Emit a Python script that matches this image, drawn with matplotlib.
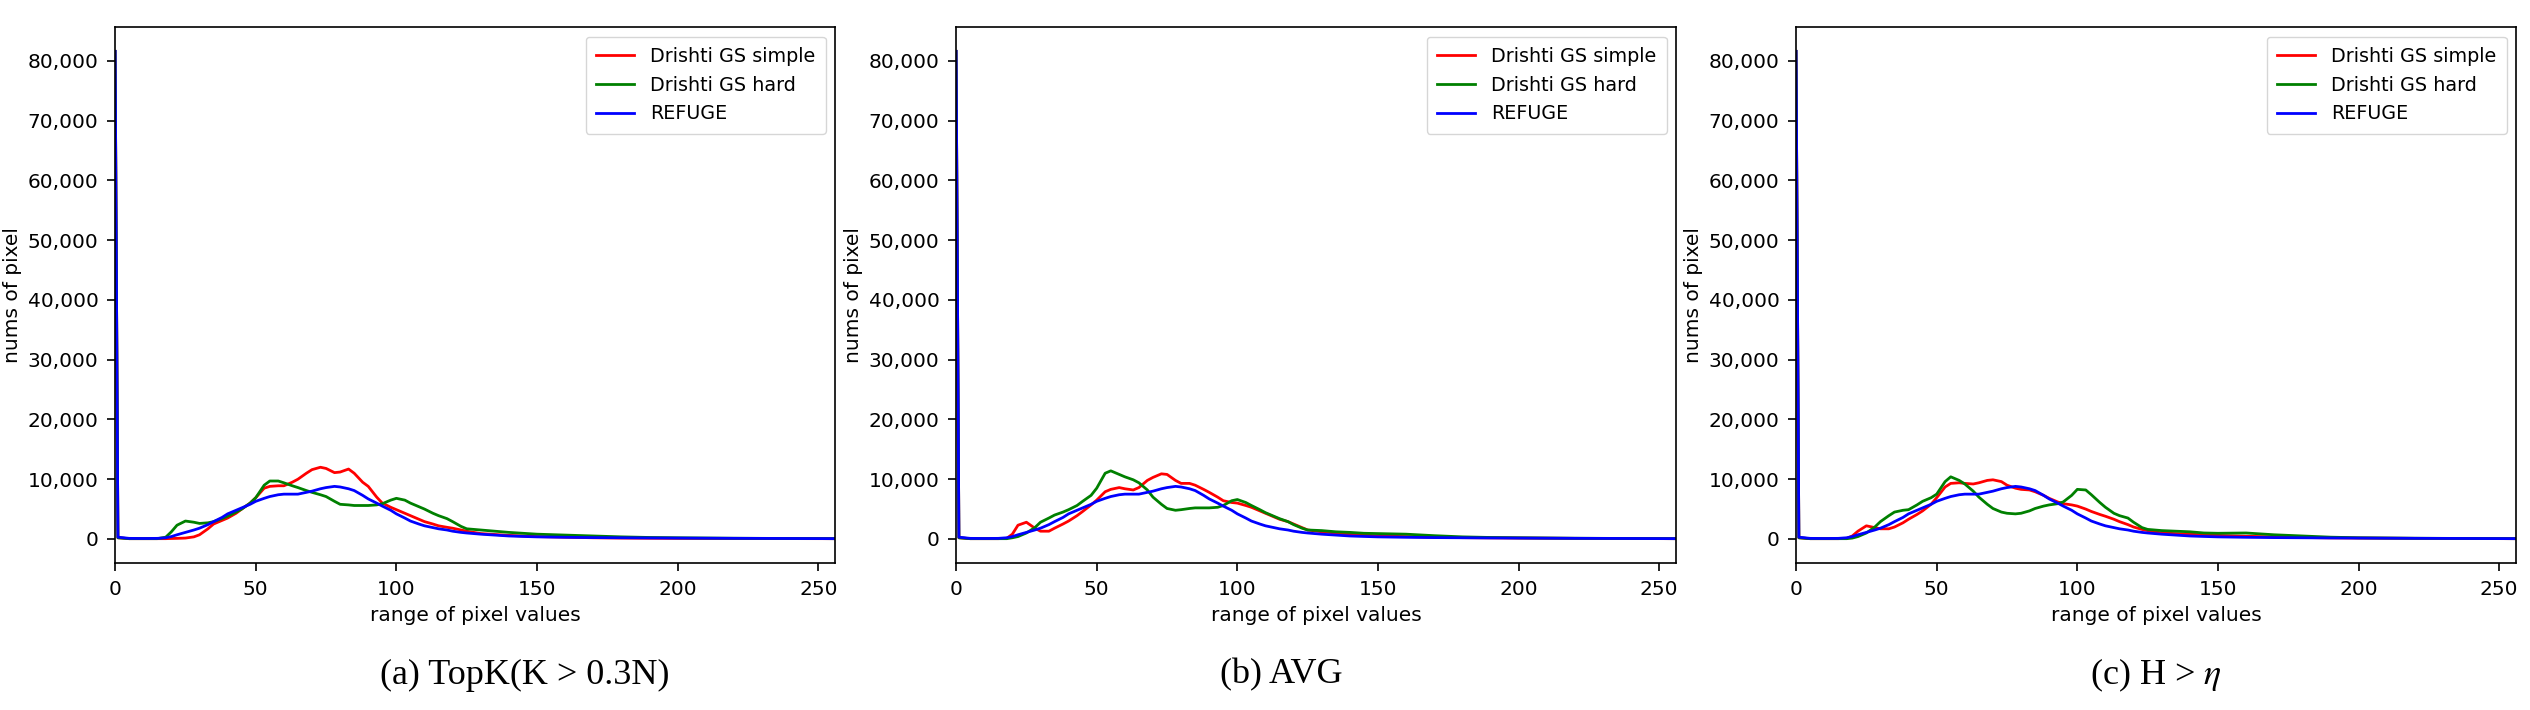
import matplotlib
matplotlib.use('Agg')
from matplotlib import pyplot as plt
from matplotlib.ticker import MultipleLocator, StrMethodFormatter

# pixel values (shared x grid for all curves)
pixel_values = [0, 1, 5, 10, 15, 18, 20, 22, 25, 28,
                30, 33, 35, 38, 40, 43, 45, 48, 50, 53,
                55, 58, 60, 63, 65, 68, 70, 73, 75, 78,
                80, 83, 85, 88, 90, 93, 95, 98, 100, 103,
                105, 108, 110, 113, 115, 118, 120, 123, 125, 130,
                135, 140, 145, 150, 160, 170, 180, 190, 200, 220,
                240, 256]

refuge = [81600, 300, 100, 80, 100, 200, 400, 700, 1100, 1500,
          1800, 2400, 2900, 3600, 4200, 4800, 5200, 5800, 6300, 6800,
          7100, 7400, 7500, 7500, 7500, 7800, 8000, 8400, 8600, 8800,
          8700, 8400, 8100, 7300, 6700, 6000, 5500, 4800, 4200, 3500,
          3000, 2500, 2200, 1900, 1700, 1500, 1300, 1100, 1000, 800,
          650, 500, 420, 350, 280, 230, 200, 170, 150, 110,
          80, 50]

topk_simple = [81600, 200, 50, 50, 50, 50, 80, 100, 150, 350,
               700, 1700, 2500, 3100, 3500, 4300, 5000, 6000, 6900, 8500,
               8800, 8900, 8900, 9500, 10000, 11000, 11600, 12000, 11800, 11100,
               11200, 11700, 11000, 9500, 8800, 7000, 6000, 5300, 4900, 4300,
               3900, 3300, 2900, 2500, 2200, 1950, 1800, 1500, 1300, 900,
               750, 600, 500, 400, 300, 200, 150, 120, 100, 80,
               60, 50]
topk_hard = [81600, 200, 50, 50, 50, 300, 1200, 2300, 3000, 2800,
             2600, 2700, 2900, 3400, 3800, 4500, 5000, 6000, 6900, 9000,
             9700, 9700, 9400, 8900, 8600, 8100, 7800, 7400, 7100, 6300,
             5800, 5700, 5600, 5600, 5600, 5700, 5900, 6500, 6800, 6500,
             6000, 5400, 5000, 4300, 3900, 3400, 2900, 2100, 1700, 1500,
             1300, 1100, 950, 800, 650, 500, 350, 250, 200, 120,
             80, 50]

avg_simple = [81600, 200, 50, 50, 50, 100, 800, 2300, 2800, 1800,
              1300, 1300, 1800, 2500, 3000, 3900, 4600, 5700, 6500, 7900,
              8300, 8600, 8400, 8200, 8600, 9800, 10300, 10900, 10800, 9800,
              9300, 9300, 9000, 8300, 7800, 7000, 6400, 6100, 6000, 5600,
              5300, 4700, 4300, 3700, 3300, 2900, 2500, 1900, 1500, 1200,
              1000, 800, 650, 500, 400, 300, 220, 180, 150, 100,
              70, 50]
avg_hard = [81600, 200, 50, 50, 50, 50, 200, 400, 1000, 1900,
            2800, 3500, 4000, 4500, 4900, 5600, 6300, 7300, 8500, 11000,
            11400, 10800, 10400, 9900, 9400, 8200, 7000, 5800, 5100, 4800,
            4900, 5100, 5200, 5200, 5200, 5300, 5600, 6400, 6600, 6100,
            5600, 4900, 4400, 3800, 3400, 2900, 2400, 1800, 1500, 1400,
            1200, 1100, 950, 900, 800, 550, 350, 250, 200, 120,
            80, 50]

entropy_simple = [81600, 200, 50, 50, 50, 100, 500, 1300, 2200, 1900,
                  1700, 1700, 2000, 2700, 3300, 4100, 4700, 5800, 6900, 8700,
                  9300, 9400, 9300, 9200, 9400, 9800, 9900, 9600, 9000, 8500,
                  8300, 8200, 7900, 7300, 6800, 6200, 5900, 5700, 5500, 5000,
                  4600, 4100, 3800, 3300, 2900, 2400, 2000, 1600, 1400, 1000,
                  900, 800, 700, 600, 450, 350, 250, 180, 150, 100,
                  70, 50]
entropy_hard = [81600, 200, 50, 50, 50, 50, 150, 400, 1000, 2000,
                2900, 3900, 4500, 4800, 4900, 5700, 6300, 6900, 7500, 9600,
                10400, 9800, 9200, 8000, 7000, 5800, 5100, 4500, 4300, 4200,
                4300, 4700, 5100, 5500, 5700, 5900, 6200, 7300, 8300, 8200,
                7400, 6100, 5300, 4300, 3900, 3500, 2800, 1900, 1600, 1400,
                1300, 1200, 1000, 950, 1000, 700, 500, 300, 200, 120,
                80, 50]

captions = ['(a) TopK(K > 0.3N)', '(b) AVG', '(c) H > $\\eta$']
caption_x = [0.2075, 0.5064, 0.852]
panels = [(topk_simple, topk_hard), (avg_simple, avg_hard), (entropy_simple, entropy_hard)]
axes_left = [0.0455, 0.3779, 0.7099]

FS = 14.5
plt.rcParams['mathtext.fontset'] = 'stix'

fig = plt.figure(figsize=(25.3, 7.1), dpi=100)
for i, (simple, hard) in enumerate(panels):
    ax = fig.add_axes([axes_left[i], 0.207, 0.2846, 0.755])
    ax.plot(pixel_values, simple, color='r', lw=2, label='Drishti GS simple')
    ax.plot(pixel_values, hard, color='g', lw=2, label='Drishti GS hard')
    ax.plot(pixel_values, refuge, color='b', lw=2, label='REFUGE')
    ax.set_xlim(0, 256)
    ax.yaxis.set_major_locator(MultipleLocator(10000))
    ax.yaxis.set_major_formatter(StrMethodFormatter('{x:,.0f}'))
    ax.tick_params(labelsize=FS, length=6, pad=6, width=1.2)
    for s in ax.spines.values():
        s.set_linewidth(1.2)
    ax.set_xlabel('range of pixel values', fontsize=FS, labelpad=5)
    ax.set_ylabel('nums of pixel', fontsize=FS, labelpad=4)
    ax.legend(loc='upper right', fontsize=13.8, borderpad=0.55)
    fig.text(caption_x[i], 0.049, captions[i], ha='center', va='center',
             fontsize=26, family='Liberation Serif')

fig.savefig('out.png', dpi=100)
